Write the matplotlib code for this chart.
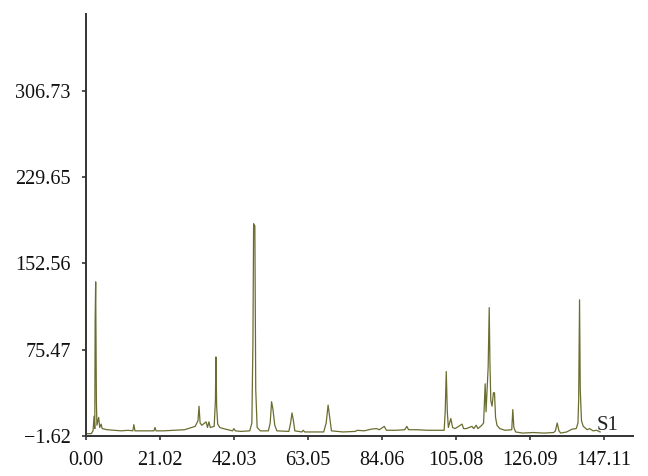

import matplotlib

matplotlib.use("Agg")
import matplotlib.pyplot as plt  # noqa: E402

# retention time (min) and detector response
time = [
    0.0, 1.5, 2.0, 2.3, 2.5, 2.6, 2.75, 2.95, 3.1, 3.6, 3.9, 4.3, 4.6,
    6.0, 8.0, 10.0, 12.0, 13.3, 13.6, 13.9, 16.0, 18.0, 19.3, 19.6, 19.9,
    22.0, 25.0, 28.0, 30.0, 31.0, 31.8, 32.1, 32.4, 32.9, 34.1, 34.5, 34.9,
    35.3, 36.4, 36.75, 36.9, 37.1, 37.4, 38.0, 39.0, 41.6, 42.0, 42.4,
    44.0, 46.5, 47.1, 47.4, 47.6, 47.95, 48.2, 48.6, 49.5,
    51.8, 52.3, 52.7, 53.1, 53.6, 54.2, 57.6, 58.1, 58.5, 58.9, 59.3,
    61.3, 61.7, 62.1, 64.0, 67.5, 68.2, 68.75, 69.2, 69.7,
    73.0, 76.5, 77.0, 79.0, 81.0, 82.5, 83.3, 84.7, 85.3, 88.0, 90.5,
    91.1, 91.6, 94.0, 97.0, 100.0, 101.7, 102.0, 102.3, 102.6, 102.9,
    103.6, 104.1, 104.8, 106.8, 107.2, 108.0, 109.6, 110.1, 110.8, 111.3,
    112.4, 112.9, 113.35, 113.6, 114.2, 114.5, 114.7, 114.95, 115.3,
    115.7, 116.0, 116.3, 116.7, 117.5, 119.0, 120.9, 121.2, 121.5, 122.0,
    124.0, 127.0, 130.0, 132.8, 133.3, 133.8, 134.3, 134.8, 136.5, 138.0,
    139.2, 139.7, 139.9, 140.0, 140.15, 140.35, 140.7, 141.2, 141.6, 142.3,
    143.0, 144.0, 145.0, 146.0,
]
signal = [
    0.5, 0.5, 3, 16, 5, 102, 136, 30, 8, 15, 6, 9, 5,
    4, 3.5, 3, 3.5, 3, 8.5, 3, 3, 3, 3, 6, 3,
    3, 3.5, 4, 6, 7, 12, 25, 10, 8, 11, 6, 11,
    6, 7, 30, 69, 25, 9, 6, 5, 3, 5, 3,
    2.5, 3, 10, 81, 188, 186, 40, 6, 3,
    3, 10, 29, 22, 8, 3, 2.5, 10, 19, 12, 3,
    2, 3.5, 2, 2, 2, 10, 26, 15, 3,
    2, 2.5, 3.5, 3, 4.5, 5, 4, 7, 3.5, 3.5, 4,
    7, 4, 4, 3.5, 3.5, 3.5, 20, 56, 20, 6,
    14, 6, 5, 9, 5, 5, 7, 5, 8, 5,
    8, 10, 45, 20, 60, 113, 64, 30, 25,
    37, 37, 15, 8, 5, 3.5, 4, 22, 6, 2,
    1, 1.5, 1, 1.5, 3, 10, 3, 1, 2, 4.5,
    5, 10, 31, 71, 120, 40, 12, 7, 6, 4,
    5, 3, 3.5, 2,
]

x_ticks = [0.00, 21.02, 42.03, 63.05, 84.06, 105.08, 126.09, 147.11]
y_ticks = [-1.62, 75.47, 152.56, 229.65, 306.73]
trace_label = "S1"

plt.rcParams["font.family"] = ["Liberation Serif", "DejaVu Serif"]

fig = plt.figure(figsize=(6.48, 4.76), dpi=100)
ax = fig.add_axes([0.1327, 0.084, 0.844, 0.8866])
ax.plot(time, signal, color="#6b6d30", lw=0.9)
ax.text(144.9, -0.6, trace_label, fontsize=15, color="#222", va="bottom", ha="left")

ax.set_xlim(0, 155.3)
ax.set_ylim(-1.62, 375.2)
ax.set_xticks(x_ticks)
ax.set_xticklabels([f"{v:.2f}" for v in x_ticks])
ax.set_yticks(y_ticks)
ax.set_yticklabels([f"{v:.2f}".replace("-", "\u2212") for v in y_ticks])

for side in ("top", "right"):
    ax.spines[side].set_visible(False)
for side in ("left", "bottom"):
    ax.spines[side].set_color("#333333")
    ax.spines[side].set_linewidth(1.4)
ax.tick_params(axis="both", labelsize=14.5, colors="#333333", labelcolor="#111111",
               direction="out", length=3, width=1.2)
ax.tick_params(axis="y", pad=8)
ax.tick_params(axis="x", pad=8)

fig.savefig("out.png", dpi=100)
